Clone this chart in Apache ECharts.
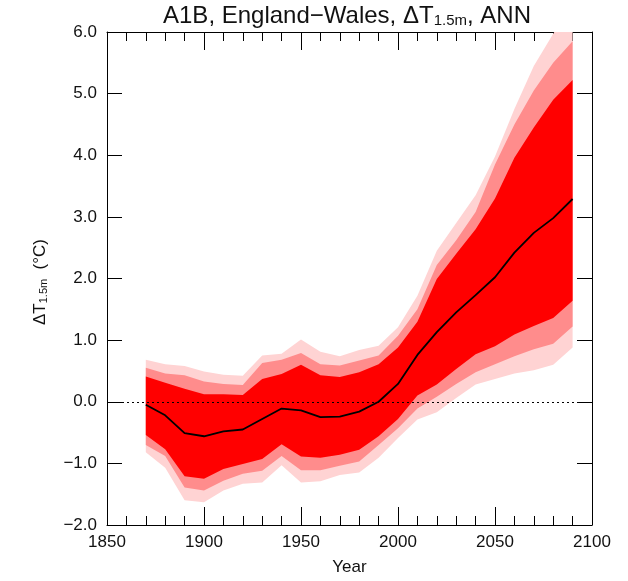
<!DOCTYPE html>
<html><head><meta charset="utf-8">
<script src="https://cdn.jsdelivr.net/npm/echarts@6/dist/echarts.min.js"></script>
<style>html,body{margin:0;padding:0;background:#fff}#c{width:628px;height:581px}</style>
</head><body><div id="c"></div>
<script>
const years = [1870,1880,1890,1900,1910,1920,1930,1940,1950,1960,1970,1980,1990,2000,2010,2020,2030,2040,2050,2060,2070,2080,2090];
const lightTop  = [0.68,0.61,0.58,0.49,0.44,0.42,0.75,0.78,1.01,0.81,0.74,0.84,0.91,1.21,1.72,2.45,2.90,3.35,3.98,4.75,5.45,5.97,6.50];
const salmonTop = [0.55,0.46,0.43,0.33,0.29,0.27,0.63,0.68,0.79,0.61,0.59,0.67,0.75,1.07,1.50,2.22,2.62,3.08,3.85,4.50,5.05,5.50,5.85];
const redTop    = [0.41,0.31,0.21,0.12,0.12,0.11,0.37,0.45,0.60,0.43,0.40,0.48,0.61,0.88,1.30,1.99,2.40,2.80,3.30,3.96,4.45,4.90,5.22];
const median    = [-0.05,-0.22,-0.51,-0.56,-0.48,-0.45,-0.28,-0.11,-0.14,-0.25,-0.24,-0.16,0.00,0.29,0.76,1.13,1.45,1.73,2.02,2.42,2.74,2.98,3.29];
const redBot    = [-0.54,-0.77,-1.21,-1.25,-1.09,-1.01,-0.93,-0.69,-0.89,-0.91,-0.86,-0.78,-0.56,-0.28,0.10,0.28,0.53,0.77,0.90,1.09,1.23,1.36,1.64];
const salmonBot = [-0.70,-0.88,-1.39,-1.44,-1.28,-1.17,-1.12,-0.88,-1.11,-1.11,-1.04,-0.97,-0.70,-0.43,-0.11,0.08,0.29,0.48,0.61,0.74,0.85,0.94,1.22];
const lightBot  = [-0.82,-1.07,-1.60,-1.63,-1.44,-1.33,-1.31,-1.03,-1.31,-1.29,-1.19,-1.15,-0.91,-0.59,-0.29,-0.17,0.06,0.28,0.37,0.46,0.51,0.60,0.88];
const xTickLabels = [1850,1900,1950,2000,2050,2100];
const yTickLabels = [-2,-1,0,1,2,3,4,5,6];

const FONT = 'Liberation Sans';
const TXT = '#111';
function pairs(a){ return years.map((y,i)=>[y,a[i]]); }
function band(lo, hi, color, z){
  return {
    type:'custom', silent:true, clip:true, z:z,
    data: years.map((y,i)=>[y, lo[i], hi[i]]),
    encode:{x:0, y:[1,2]},
    renderItem:function(params, api){
      if (params.dataIndex !== 0) return null;
      const up = years.map((y,i)=>api.coord([y, hi[i]]));
      const dn = years.map((y,i)=>api.coord([y, lo[i]])).reverse();
      return {type:'polygon', shape:{points: up.concat(dn)}, style:{fill: color, stroke:null}};
    }
  };
}
function fmtY(v){ return (v<0?'\u2212':'') + Math.abs(v).toFixed(1); }

const baseX = {
  type:'value', min:1850, max:2100, interval:50,
  axisLine:{show:true, onZero:false, lineStyle:{color:'#000',width:1}},
  axisTick:{show:true, inside:true, length:18, lineStyle:{color:'#000',width:1}},
  minorTick:{show:true, splitNumber:5, length:9, lineStyle:{color:'#000',width:1}},
  splitLine:{show:false}, minorSplitLine:{show:false}
};
const baseY = {
  type:'value', min:-2, max:6, interval:1,
  axisLine:{show:true, onZero:false, lineStyle:{color:'#000',width:1}},
  axisTick:{show:true, inside:true, length:15, lineStyle:{color:'#000',width:1}},
  splitLine:{show:false}
};

const chart = echarts.init(document.getElementById('c'), null, {renderer:'canvas'});
chart.setOption({
  animation:false,
  backgroundColor:'#fff',
  grid:{left:107, right:36, top:32, bottom:49, containLabel:false},
  xAxis:[
    Object.assign({}, baseX, {position:'bottom',
      axisLabel:{show:true, margin:9, fontFamily:FONT, fontSize:17, color:TXT,
        customValues:xTickLabels, formatter:v=>String(v)},
      name:'Year', nameLocation:'middle', nameGap:34,
      nameTextStyle:{fontFamily:FONT, fontSize:17, color:TXT}}),
    Object.assign({}, baseX, {position:'top', axisLabel:{show:false}})
  ],
  yAxis:[
    Object.assign({}, baseY, {position:'left',
      axisLabel:{show:true, margin:10, fontFamily:FONT, fontSize:17, color:TXT,
        customValues:yTickLabels, formatter:fmtY}}),
    Object.assign({}, baseY, {position:'right', axisLabel:{show:false}})
  ],
  graphic:[
    {type:'text', x:347, y:16, z:100, style:{
      text:'{a|A1B, England\u2212Wales, \u0394T}{s|1.5m}{a|, ANN}',
      align:'center', verticalAlign:'middle',
      rich:{
        a:{fontFamily:FONT, fontSize:24, fill:TXT, verticalAlign:'bottom', lineHeight:24},
        s:{fontFamily:FONT, fontSize:15, fill:TXT, verticalAlign:'bottom', lineHeight:4}
      }}},
    {type:'text', x:40, y:282, rotation:Math.PI/2, z:100, style:{
      text:'{a|\u0394T}{s|1.5m}{a|  (\u00b0C)}',
      align:'center', verticalAlign:'middle',
      rich:{
        a:{fontFamily:FONT, fontSize:17, fill:TXT, verticalAlign:'bottom', lineHeight:18},
        s:{fontFamily:FONT, fontSize:11, fill:TXT, verticalAlign:'bottom', lineHeight:4}
      }}}
  ],
  series:[
    band(lightBot, lightTop, '#FFD3D3', 1),
    band(salmonBot, salmonTop, '#FF8C8C', 2),
    band(redBot, redTop, '#FF0000', 3),
    {type:'line', data:pairs(median), symbol:'none', silent:true, z:5,
      lineStyle:{color:'#000', width:1.8},
      markLine:{silent:true, symbol:'none', label:{show:false},
        lineStyle:{color:'#000', width:1, type:[2,3]},
        data:[{yAxis:0}]}}
  ]
});
</script>
</body></html>
